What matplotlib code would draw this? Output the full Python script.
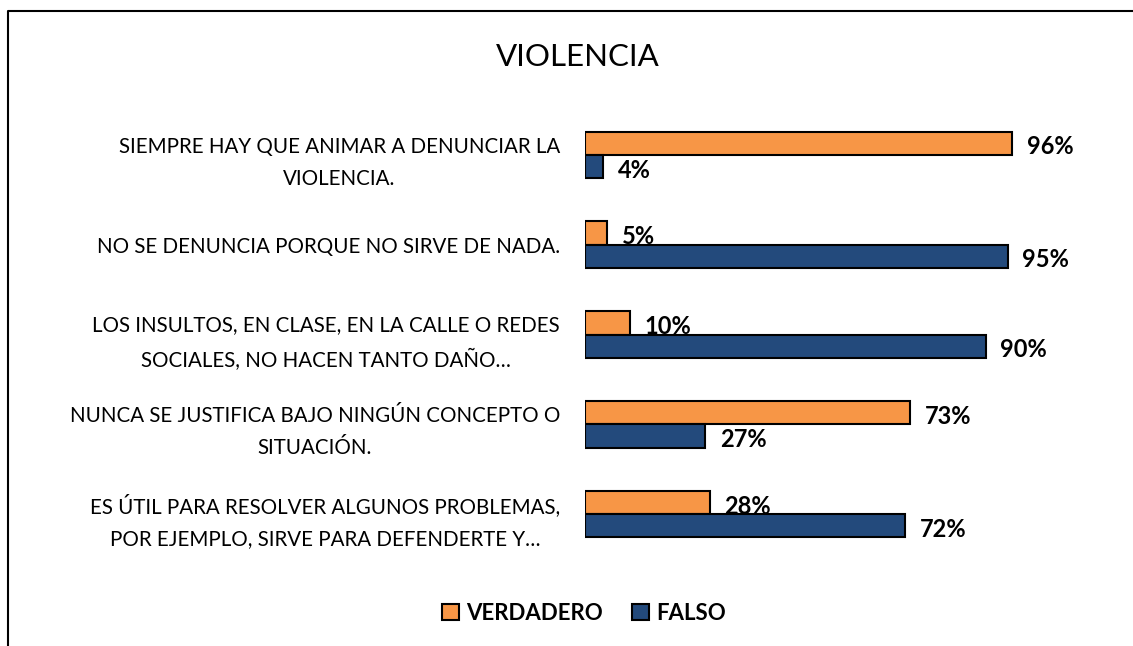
import matplotlib.pyplot as plt
import numpy as np

plt.rcParams['font.family'] = ['Lato', 'DejaVu Sans']

preguntas = [
    "SIEMPRE HAY QUE ANIMAR A DENUNCIAR LA\nVIOLENCIA.",
    "NO SE DENUNCIA PORQUE NO SIRVE DE NADA.",
    "LOS INSULTOS, EN CLASE, EN LA CALLE O REDES\nSOCIALES, NO HACEN TANTO DAÑO…",
    "NUNCA SE JUSTIFICA BAJO NINGÚN CONCEPTO O\nSITUACIÓN.",
    "ES ÚTIL PARA RESOLVER ALGUNOS PROBLEMAS,\nPOR EJEMPLO, SIRVE PARA DEFENDERTE Y…",
]
verdadero = [0.96, 0.05, 0.10, 0.73, 0.28]
falso = [0.04, 0.95, 0.90, 0.27, 0.72]

naranja = '#F79646'
azul = '#234A7C'

fig = plt.figure(figsize=(11.33, 6.46), dpi=100)
W, H = 1133, 646
ax = fig.add_axes([585 / W, 1 - 559 / H, (1030 - 585) / W, (559 - 110) / H])

y = np.arange(len(preguntas))
h = 0.26
ax.barh(y - h / 2, verdadero, height=h, color=naranja, edgecolor='black', lw=1.5, label='VERDADERO')
ax.barh(y + h / 2, falso, height=h, color=azul, edgecolor='black', lw=1.5, label='FALSO')

for i in range(len(y)):
    ax.text(verdadero[i] + 0.033, y[i] - h / 2 + 0.04, f"{verdadero[i]*100:.0f}%",
            va='center', ha='left', fontsize=17, fontweight='bold')
    ax.text(falso[i] + 0.033, y[i] + h / 2 + 0.04, f"{falso[i]*100:.0f}%",
            va='center', ha='left', fontsize=17, fontweight='bold')

ax.set_xlim(0, 1)
ax.set_ylim(len(y) - 0.5, -0.5)
ax.set_xticks([])
ax.set_yticks(y)
ax.set_yticklabels(preguntas, fontsize=14.8, multialignment='center', linespacing=1.75)
ax.tick_params(axis='y', length=0, pad=18)
for s in ax.spines.values():
    s.set_visible(False)

fig.text(578 / W, 1 - 57 / H, "VIOLENCIA", ha='center', va='center', fontsize=22.5)

fig.legend(loc='center', bbox_to_anchor=(584 / W, 1 - 613 / H), ncol=2, frameon=False,
           prop={'weight': 'bold', 'size': 16}, handlelength=0.75, handleheight=0.75,
           handletextpad=0.35, columnspacing=1.3)

# marco (solo arriba e izquierda visibles)
fig.add_artist(plt.Line2D([8 / W, 8 / W, 1], [0, 1 - 11 / H, 1 - 11 / H],
                          transform=fig.transFigure, color='black', lw=1.5))

fig.savefig('out.png', dpi=100)
